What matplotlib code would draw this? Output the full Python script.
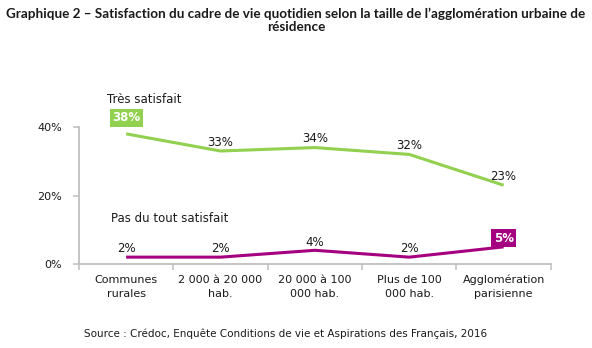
import matplotlib

matplotlib.use("Agg")
import matplotlib.pyplot as plt
import numpy as np

categories = [
    "Communes\nrurales",
    "2 000 à 20 000\nhab.",
    "20 000 à 100\n000 hab.",
    "Plus de 100\n000 hab.",
    "Agglomération\nparisienne",
]
tres_satisfait = [38, 33, 34, 32, 23]
pas_du_tout = [2, 2, 4, 2, 5]
y_ticks = [0, 20, 40]

GREEN = "#92d050"
MAGENTA = "#a5007f"
AXIS = "#bfbfbf"
TXT = "#1a1a1a"

fig = plt.figure(figsize=(5.92, 3.48), dpi=100)
ax = fig.add_axes([0.1334, 0.2414, 0.797, 0.3936])

x = np.arange(len(categories))
ax.plot(x, tres_satisfait, color=GREEN, lw=2.2, solid_capstyle="butt")
ax.plot(x, pas_du_tout, color=MAGENTA, lw=2.2, solid_capstyle="butt")

ax.set_xlim(-0.5, len(categories) - 0.5)
ax.set_ylim(0, 40)

for s in ("top", "right"):
    ax.spines[s].set_visible(False)
for s in ("left", "bottom"):
    ax.spines[s].set_color(AXIS)
    ax.spines[s].set_linewidth(1.3)

ax.set_yticks(y_ticks)
ax.set_yticklabels([f"{v}%" for v in y_ticks], fontsize=8, color=TXT)
ax.tick_params(axis="y", length=4, color=AXIS, width=1.1, pad=8)

# category boundaries as tick marks, labels at centres
ax.set_xticks(np.arange(len(categories) + 1) - 0.5)
ax.set_xticklabels([])
ax.tick_params(axis="x", length=4, color=AXIS, width=1.1)
for i, c in enumerate(categories):
    ax.text(i, -3.2, c, ha="center", va="top", fontsize=8, color=TXT,
            linespacing=1.45)

# value labels
for i, v in enumerate(tres_satisfait):
    if i == 0:
        ax.text(i, v + 4.7, f"{v}%", ha="center", va="center", fontsize=8.5,
                color="white", fontweight="bold",
                bbox=dict(boxstyle="square,pad=0.2", fc=GREEN, ec="none"))
    else:
        ax.text(i, v + 2.6, f"{v}%", ha="center", va="center", fontsize=8.5,
                color=TXT)
for i, v in enumerate(pas_du_tout):
    if i == len(pas_du_tout) - 1:
        ax.text(i, v + 2.5, f"{v}%", ha="center", va="center", fontsize=8.5,
                color="white", fontweight="bold",
                bbox=dict(boxstyle="square,pad=0.2", fc=MAGENTA, ec="none"))
    else:
        ax.text(i, v + 2.4, f"{v}%", ha="center", va="center", fontsize=8.5,
                color=TXT)

ax.text(-0.2, 48.0, "Très satisfait", ha="left", va="center", fontsize=8.5,
        color=TXT, clip_on=False)
ax.text(-0.16, 13.2, "Pas du tout satisfait", ha="left", va="center",
        fontsize=8.5, color=TXT)

fig.text(0.5, 0.978,
         "Graphique 2 – Satisfaction du cadre de vie quotidien selon la taille de l’agglomération urbaine de\nrésidence",
         ha="center", va="top", fontsize=9.7, fontweight="bold", family="Lato",
         color=TXT, linespacing=1.1)
fig.text(0.482, 0.04,
         "Source : Crédoc, Enquête Conditions de vie et Aspirations des Français, 2016",
         ha="center", va="center", fontsize=7.5, color=TXT)

fig.savefig("out.png", dpi=100)
